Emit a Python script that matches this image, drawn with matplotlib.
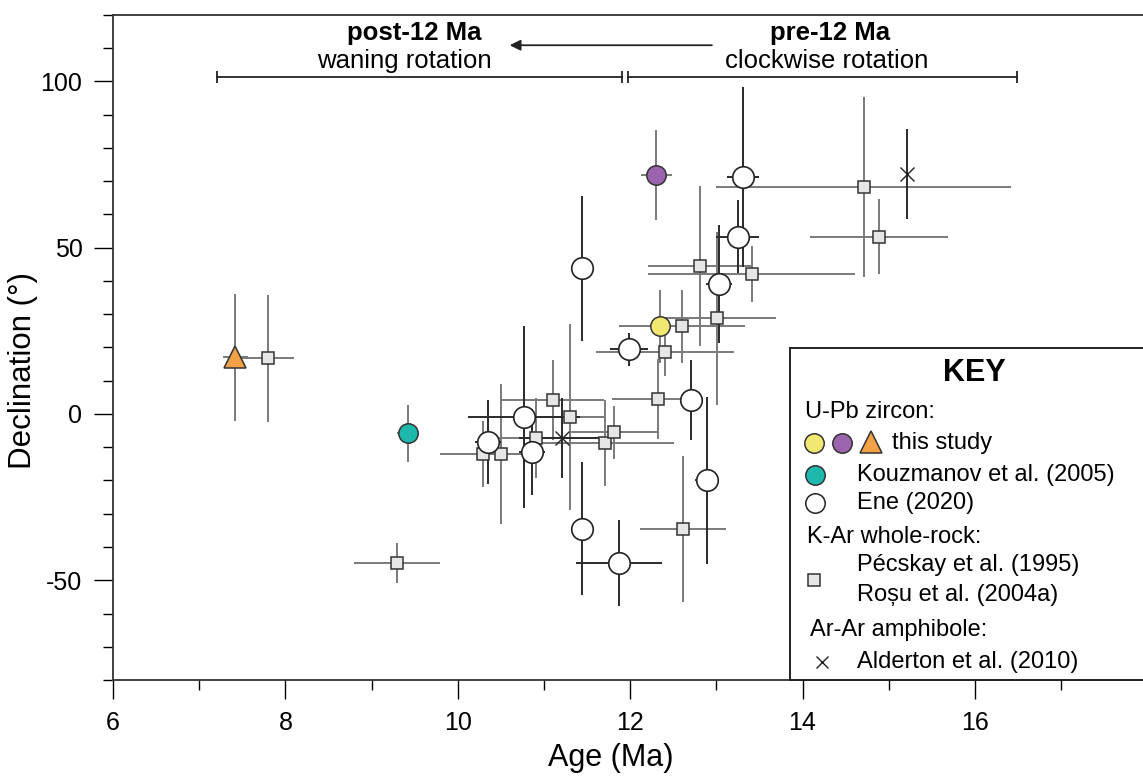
import matplotlib
matplotlib.use("Agg")
import matplotlib.pyplot as plt
from matplotlib.patches import Rectangle
from matplotlib.ticker import MultipleLocator

plt.rcParams["font.family"] = ["Liberation Sans", "DejaVu Sans"]
plt.rcParams["axes.unicode_minus"] = False

# K-Ar whole-rock (Pecskay et al. 1995; Rosu et al. 2004a)
kar_age = [7.80, 9.29, 10.29, 10.50, 10.91, 11.10, 11.30, 11.71, 11.81, 12.32,
           12.40, 12.60, 12.61, 12.81, 13.01, 13.41, 14.71, 14.89]
kar_dec = [16.7, -44.8, -12.1, -12.1, -7.3, 4.2, -0.9, -8.8, -5.5, 4.5,
           18.5, 26.4, -34.5, 44.5, 28.8, 42.1, 68.2, 53.3]
kar_age_err = [0.30, 0.50, 0.50, 0.30, 0.45, 0.60, 0.40, 0.80, 0.50, 0.53,
               0.80, 0.73, 0.50, 0.60, 0.68, 1.20, 1.71, 0.80]
kar_dec_err = [19, 6, 10, 21, 12, 12, 28, 13, 8, 12,
               7, 11, 22, 24, 26, 8.4, 27, 11.3]

# U-Pb zircon, Ene (2020)
ene_age = [10.35, 10.77, 10.86, 11.44, 11.44, 11.87, 11.99, 12.71, 12.89, 13.03, 13.25, 13.31]
ene_dec = [-8.5, -0.9, -11.5, 43.9, -34.5, -44.8, 19.4, 4.2, -20.0, 39.1, 53.3, 71.2]
ene_age_err = [0.15, 0.65, 0.15, 0.0, 0.0, 0.50, 0.22, 0.12, 0.14, 0.15, 0.25, 0.19]
ene_dec_err = [12.7, 27.5, 13, 21.8, 20, 13, 5, 12, 25, 17.7, 11, 27]

# Ar-Ar amphibole (Alderton et al. 2010)
arar_age = [11.21, 15.21]
arar_dec = [-7.3, 72.1]
arar_age_err = [0.5, 0.0]
arar_dec_err = [12, 13.5]

# this study + Kouzmanov et al. (2005): age, declination, age err, dec err
yellow = (12.35, 26.4, 0.10, 11)
purple = (12.30, 71.8, 0.18, 13.5)
triangle = (7.42, 17.0, 0.15, 19)
teal = (9.42, -5.8, 0.13, 8.5)

C_YELLOW = "#f1e872"
C_PURPLE = "#9c64ad"
C_ORANGE = "#f2a145"
C_TEAL = "#1fb8ac"
C_SQUARE = "#e6e6e6"
GREY = "#7a7a7a"
DARK = "#2a2a2a"

fig = plt.figure(figsize=(11.43, 7.76), dpi=100)
ax = fig.add_axes([0.0989, 0.1237, 0.9011, 0.857])
ax.set_xlim(6, 17.95)
ax.set_ylim(-80, 120)

eb = dict(fmt="none", elinewidth=1.4, capsize=0)
ax.errorbar(kar_age, kar_dec, xerr=kar_age_err, yerr=kar_dec_err, ecolor=GREY, zorder=2, **eb)
ax.errorbar(ene_age, ene_dec, xerr=ene_age_err, yerr=ene_dec_err, ecolor=DARK, zorder=2, **eb)
ax.errorbar(arar_age, arar_dec, xerr=arar_age_err, yerr=arar_dec_err, ecolor=DARK, zorder=2, **eb)
for p in (yellow, purple, triangle, teal):
    ax.errorbar([p[0]], [p[1]], xerr=[p[2]], yerr=[p[3]], ecolor=GREY, zorder=2, **eb)

ax.plot(kar_age, kar_dec, "s", ms=8, mfc=C_SQUARE, mec="#333333", mew=1.1, ls="none", zorder=4)
ax.plot(arar_age, arar_dec, "x", ms=10, mec="#222222", mew=1.0, ls="none", zorder=4)
ax.plot(ene_age, ene_dec, "o", ms=15.5, mfc="white", mec="#222222", mew=1.2, ls="none", zorder=5)
ax.plot([yellow[0]], [yellow[1]], "o", ms=14, mfc=C_YELLOW, mec="#333333", mew=1.1, zorder=6)
ax.plot([purple[0]], [purple[1]], "o", ms=14, mfc=C_PURPLE, mec="#333333", mew=1.1, zorder=6)
ax.plot([teal[0]], [teal[1]], "o", ms=14, mfc=C_TEAL, mec="#333333", mew=1.1, zorder=6)
ax.plot([triangle[0]], [triangle[1]], "^", ms=16, mfc=C_ORANGE, mec="#333333", mew=1.1, zorder=6)

# axes styling
ax.spines["right"].set_visible(False)
for s in ("left", "bottom", "top"):
    ax.spines[s].set_linewidth(1.3)
    ax.spines[s].set_color("#333333")
ax.xaxis.set_major_locator(MultipleLocator(2))
ax.xaxis.set_minor_locator(MultipleLocator(1))
ax.yaxis.set_major_locator(MultipleLocator(50))
ax.yaxis.set_minor_locator(MultipleLocator(10))
ax.tick_params(which="major", direction="out", length=14, width=1.0, labelsize=18, pad=8)
ax.tick_params(which="minor", direction="out", length=7, width=1.0)
ax.tick_params(top=False, right=False, which="both")
ax.set_xticks([6, 8, 10, 12, 14, 16])
ax.set_xlabel("Age (Ma)", fontsize=22)
ax.xaxis.set_label_coords(0.483, -0.094)
ax.set_ylabel("Declination (°)", fontsize=22.5)
ax.yaxis.set_label_coords(-0.073, 0.466)

# rotation phases
ax.plot([7.21, 11.905], [101.2, 101.2], color="#222222", lw=1.3, marker="|", ms=9, mew=1.3)
ax.plot([11.975, 16.49], [101.2, 101.2], color="#222222", lw=1.3, marker="|", ms=9, mew=1.3)
ax.text(9.49, 114.5, "post-12 Ma", ha="center", va="center", fontsize=18.5, weight="bold")
ax.text(9.38, 106.2, "waning rotation", ha="center", va="center", fontsize=18.5)
ax.text(14.32, 114.5, "pre-12 Ma", ha="center", va="center", fontsize=18.5, weight="bold")
ax.text(14.28, 106.2, "clockwise rotation", ha="center", va="center", fontsize=18.5)
ax.annotate("", xy=(10.57, 110.9), xytext=(12.98, 110.9),
            arrowprops=dict(arrowstyle="-|>", lw=1.3, color="#222222", mutation_scale=16))

# key box
T = ax.transAxes
ax.add_patch(Rectangle((0.657, 0.0), 0.4, 0.499, transform=T, facecolor="white",
                       edgecolor="#222222", lw=1.4, zorder=10, clip_on=False))
kw = dict(transform=T, zorder=11, fontsize=17, va="center", ha="left")
ax.text(0.836, 0.462, "KEY", transform=T, zorder=11, fontsize=22, weight="bold", ha="center", va="center")
ax.text(0.672, 0.403, "U-Pb zircon:", **kw)
ax.text(0.756, 0.356, "this study", **kw)
ax.text(0.722, 0.308, "Kouzmanov et al. (2005)", **kw)
ax.text(0.722, 0.266, "Ene (2020)", **kw)
ax.text(0.674, 0.215, "K-Ar whole-rock:", **kw)
ax.text(0.722, 0.173, "Pécskay et al. (1995)", **kw)
ax.text(0.722, 0.128, "Roșu et al. (2004a)", **kw)
ax.text(0.677, 0.075, "Ar-Ar amphibole:", **kw)
ax.text(0.722, 0.027, "Alderton et al. (2010)", **kw)
mk = dict(transform=T, zorder=12, clip_on=False, ls="none")
ax.plot(0.681, 0.356, "o", ms=14, mfc=C_YELLOW, mec="#333333", mew=1.1, **mk)
ax.plot(0.708, 0.356, "o", ms=14, mfc=C_PURPLE, mec="#333333", mew=1.1, **mk)
ax.plot(0.736, 0.358, "^", ms=16, mfc=C_ORANGE, mec="#333333", mew=1.1, **mk)
ax.plot(0.682, 0.308, "o", ms=14, mfc=C_TEAL, mec="#333333", mew=1.1, **mk)
ax.plot(0.682, 0.266, "o", ms=14, mfc="white", mec="#222222", mew=1.1, **mk)
ax.plot(0.681, 0.150, "s", ms=9, mfc=C_SQUARE, mec="#333333", mew=1.1, **mk)
ax.plot(0.688, 0.027, "x", ms=9, mec="#222222", mew=1.0, **mk)

fig.savefig("out.png", dpi=100)
